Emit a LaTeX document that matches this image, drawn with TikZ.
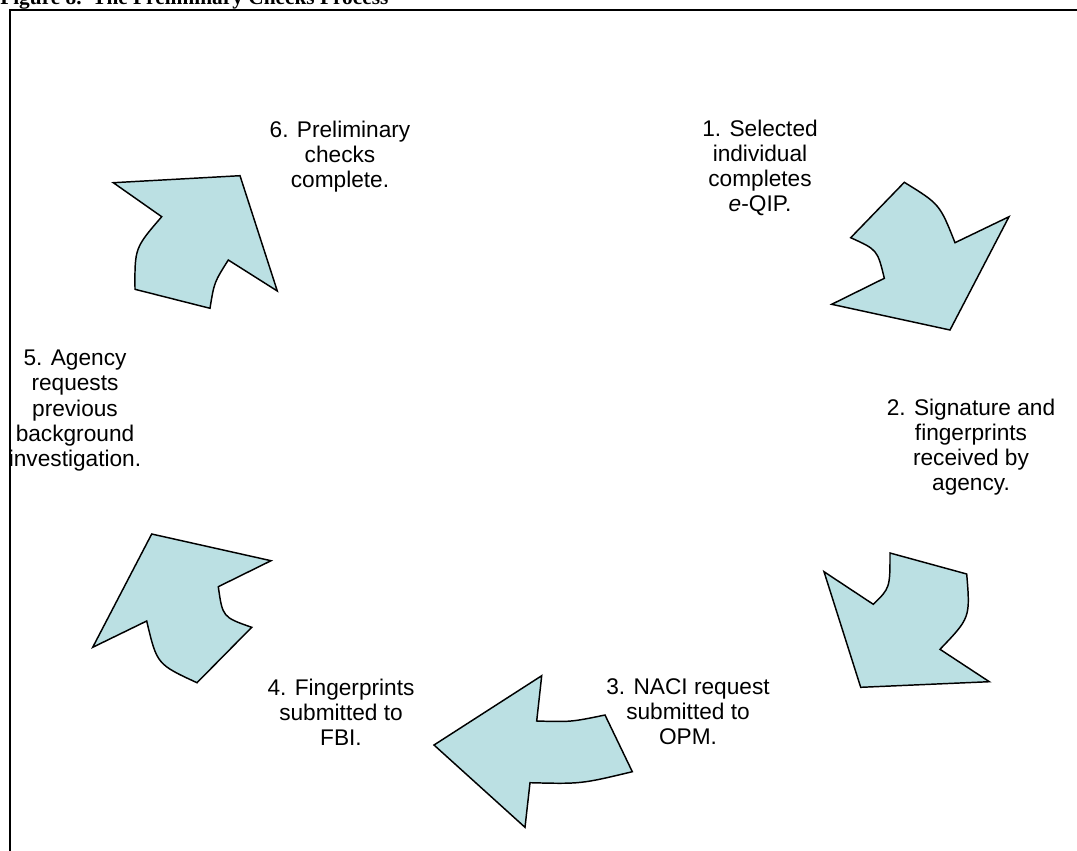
\documentclass[tikz,border=0pt]{standalone}
\usepackage{fontspec}
\setmainfont{Liberation Sans}
\newfontfamily\titlefont{Liberation Serif}
\definecolor{arrowblue}{RGB}{187,224,227}
\tikzset{
  cyclearrow/.style={draw=black, fill=arrowblue, line width=1.1pt, line join=miter},
  steptext/.style={align=center, anchor=north, inner sep=0pt, font=\fontsize{17}{18.8}\selectfont}
}
\begin{document}
\begin{tikzpicture}[x=0.75pt,y=-0.75pt]
  \useasboundingbox (0,0) rectangle (1077,850);
  \clip (0,0) rectangle (1077,850);
  % title and frame
  \node[anchor=base west, inner sep=0pt, font=\titlefont\bfseries\fontsize{16}{18}\selectfont] (title) at (0,4) {Figure 8.\ \ The Preliminary Checks Process};
  \draw[line width=1.3pt] (10,900) -- (10,10) -- (1100,10);
  % step texts
  \node[steptext] (sel) at (760,119.5) {1. Selected\\individual\\completes\\{\itshape e}-QIP.};
  \node[steptext] (sig) at (971,398.5) {2. Signature and\\fingerprints\\received by\\agency.};
  \node[steptext] (naci) at (688,678) {3. NACI request\\submitted to\\OPM.};
  \node[steptext] (fbi) at (341,679) {4. Fingerprints\\submitted to\\FBI.};
  \node[steptext] (prev) at (75,350) {5. Agency\\requests\\previous\\background\\investigation.};
  \node[steptext] (done) at (340,120.5) {6. Preliminary\\checks\\complete.};
  % arrows of the cycle
  \filldraw[cyclearrow] (904.3,182.3) .. controls (939.7,204.1) .. (955,242.7) -- (1009,216.7) -- (950,330) -- (831.7,304.3) -- (884.3,278.3) .. controls (877.4,249.8) .. (850.7,237.7) -- cycle;
  \filldraw[cyclearrow] (873.3,604.3) .. controls (890,588) .. (890,553) -- (966.7,574) .. controls (970.3,617.7) .. (940,649.3) -- (989.3,681.7) -- (860.7,687.3) -- (824,571.7) -- cycle;
  \filldraw[cyclearrow] (434,745) -- (541.7,675.7) -- (536.7,721) .. controls (571,722) .. (605,715) -- (632.3,771.7) .. controls (581,784) .. (530,782.7) -- (525,827.3) -- cycle;
  \filldraw[cyclearrow] (151.7,534) -- (271,560.7) -- (218.3,586.7) .. controls (222.6,617.1) .. (251.7,627.3) -- (197,682.7) .. controls (156.9,664.2) .. (146.7,621) -- (92.7,647.3) -- cycle;
  \filldraw[cyclearrow] (240,175.7) -- (277.3,291) -- (228.3,260) .. controls (214.2,282.3) .. (210,308.3) -- (135,289.3) .. controls (134.7,248) .. (161.7,216.7) -- (113.3,182.7) -- cycle;
\end{tikzpicture}
\end{document}
